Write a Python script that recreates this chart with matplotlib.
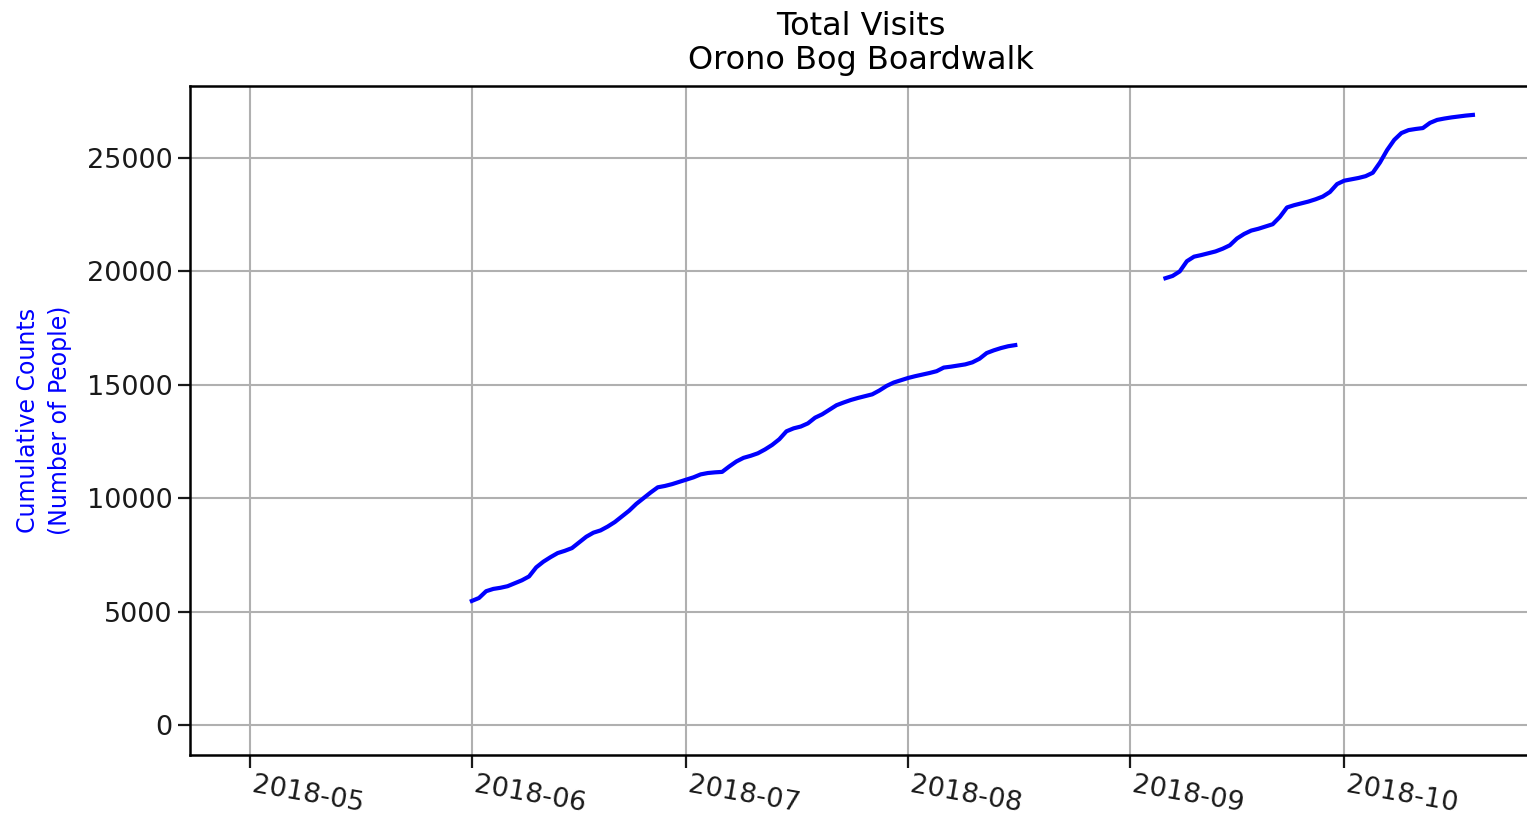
import datetime as dt
import matplotlib
matplotlib.use("Agg")
import matplotlib.pyplot as plt
import matplotlib.dates as mdates

# daily cumulative counts (two logging periods)
start_1 = dt.date(2018, 6, 1)
counts_1 = [5470, 5600, 5900, 6000, 6050, 6120, 6250, 6380, 6550, 6950,
            7200, 7400, 7580, 7680, 7800, 8050, 8300, 8480, 8580, 8750,
            8950, 9200, 9450, 9750, 10000, 10250, 10480, 10540, 10620, 10720,
            10820, 10920, 11050, 11110, 11140, 11160, 11400, 11620, 11780, 11870,
            11980, 12150, 12350, 12600, 12950, 13080, 13160, 13300, 13550, 13700,
            13900, 14100, 14220, 14330, 14420, 14500, 14580, 14750, 14950, 15100,
            15200, 15300, 15380, 15450, 15520, 15600, 15760, 15800, 15850, 15900,
            15990, 16150, 16400, 16520, 16620, 16700, 16750]

start_2 = dt.date(2018, 9, 6)
counts_2 = [19700, 19800, 20000, 20450, 20650, 20720, 20800, 20880, 21000, 21150,
            21450, 21650, 21800, 21880, 21980, 22080, 22400, 22820, 22920, 23000,
            23080, 23180, 23300, 23500, 23850, 24000, 24060, 24120, 24200, 24350,
            24800, 25350, 25800, 26100, 26230, 26280, 26320, 26550, 26680, 26740,
            26790, 26830, 26870, 26900]

dates_1 = [start_1 + dt.timedelta(days=i) for i in range(len(counts_1))]
dates_2 = [start_2 + dt.timedelta(days=i) for i in range(len(counts_2))]

plt.rcParams["font.family"] = ["DejaVu Sans"]

fig = plt.figure(figsize=(15.27, 8.19), dpi=100)
ax = fig.add_axes([190 / 1527, 1 - 755 / 819, (1531 - 190) / 1527, (755 - 86) / 819])

for d, c in ((dates_1, counts_1), (dates_2, counts_2)):
    ax.plot(d, c, color="blue", lw=3, zorder=3)

ax.set_xlim(dt.datetime(2018, 4, 22, 14), dt.datetime(2018, 10, 27, 3))
ax.set_ylim(-1323, 28175)
ax.set_yticks([0, 5000, 10000, 15000, 20000, 25000])
ax.xaxis.set_major_locator(mdates.MonthLocator())
ax.xaxis.set_major_formatter(mdates.DateFormatter("%Y-%m"))

ax.grid(True, color="#b0b0b0", lw=1.5)
ax.set_axisbelow(True)
for s in ax.spines.values():
    s.set_linewidth(1.8)
ax.tick_params(labelsize=19.5, length=9, width=1.6, colors="#1a1a1a")
for lab in ax.get_xticklabels():
    lab.set_rotation(-10)
    lab.set_ha("left")

ax.set_ylabel("Cumulative Counts\n(Number of People)", color="blue",
              fontsize=17, labelpad=11, linespacing=1.4)
ax.set_title("Total Visits\nOrono Bog Boardwalk", fontsize=23, pad=12, linespacing=1.15)

fig.savefig("out.png", dpi=100)
